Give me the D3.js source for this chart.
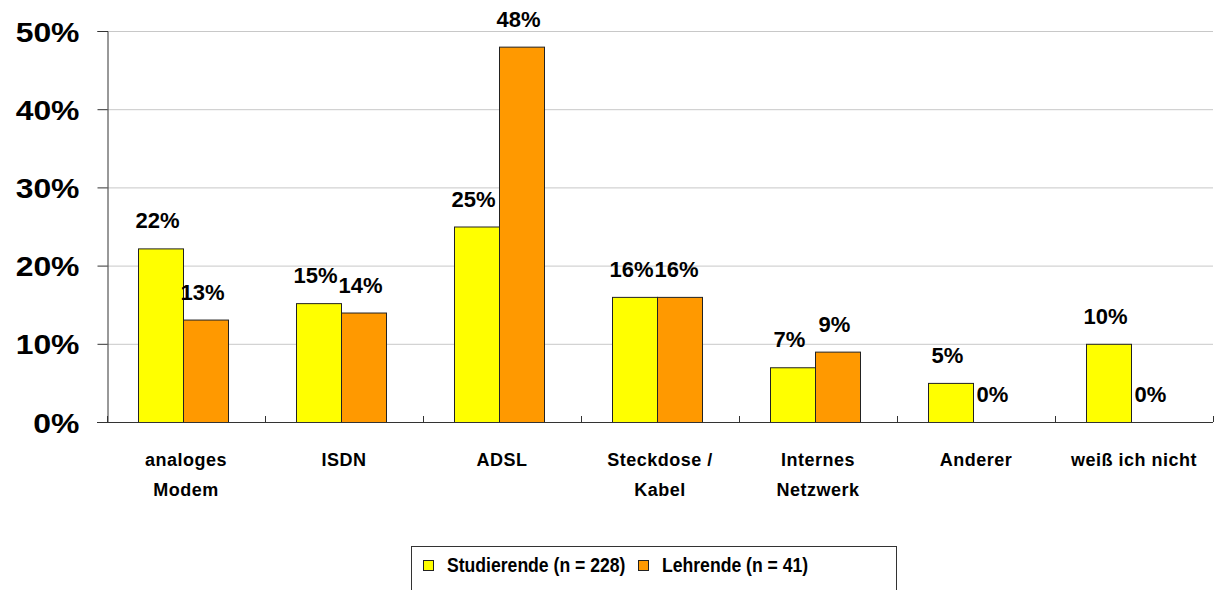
<!DOCTYPE html>
<html><head><meta charset="utf-8">
<script src="https://cdn.jsdelivr.net/npm/d3@7"></script>
<style>
html,body{margin:0;padding:0;background:#fff;}
svg text{font-family:"Liberation Sans",Arial,sans-serif;font-weight:bold;fill:#000;}
</style></head>
<body>
<svg id="chart" width="1222" height="590"></svg>
<script>
const categories = [["analoges","Modem"],["ISDN"],["ADSL"],["Steckdose /","Kabel"],["Internes","Netzwerk"],["Anderer"],["weiß ich nicht"]];
const seriesNames = ["Studierende (n = 228)","Lehrende (n = 41)"];
const studierende = [22.2, 15.2, 25, 16, 7, 5, 10];
const lehrende = [13.1, 14, 48, 16, 9, 0, 0];
const yTicks = [0,10,20,30,40,50];
const colors = ["#FFFF00","#FF9900"];

const svg = d3.select("#chart");
const x = d3.scaleBand().domain(d3.range(categories.length)).range([107,1213]).padding(0);
const inner = d3.scaleBand().domain([0,1]).range([31,121]);
const y = d3.scaleLinear().domain([0,50]).range([422,31]);

// gridlines
svg.append("g").selectAll("line").data(yTicks.filter(d=>d>0)).join("line")
  .attr("x1",107).attr("x2",1213).attr("y1",d=>y(d)+0.5).attr("y2",d=>y(d)+0.5)
  .attr("stroke","#c8c8c8").attr("stroke-width",1);

// y axis
const yAxis = svg.append("g").attr("transform","translate(107.5,0)")
  .call(d3.axisLeft(y).tickValues(yTicks).tickFormat(d=>d+"%").tickSize(10).tickPadding(18));
yAxis.select(".domain").attr("stroke","#333");
yAxis.selectAll(".tick line").attr("stroke","#333");
yAxis.selectAll(".tick text").style("font-size","28px").attr("dy","0.36em")
  .attr("transform","translate(-28,0) scale(1.14,1)").attr("x",0);

// bars
const data = [];
categories.forEach((c,i)=>{
  data.push({i, s:0, v:studierende[i]});
  data.push({i, s:1, v:lehrende[i]});
});
svg.append("g").selectAll("rect").data(data.filter(d=>d.v>0)).join("rect")
  .attr("x",d=>x(d.i)+inner(d.s)+0.5)
  .attr("y",d=>y(d.v)+0.5)
  .attr("width",inner.bandwidth())
  .attr("height",d=>y(0)-y(d.v))
  .attr("fill",d=>colors[d.s])
  .attr("stroke","#222").attr("stroke-width",1);

// value labels
svg.append("g").selectAll("text").data(data).join("text")
  .attr("x",d=>x(d.i)+inner(d.s)+inner.bandwidth()/2-3)
  .attr("y",d=>y(d.v)-20)
  .attr("text-anchor","middle")
  .style("font-size","22px")
  .text(d=>Math.round(d.v)+"%");

// x axis
const xAxis = svg.append("g").attr("transform","translate(0,422)");
xAxis.append("line").attr("x1",97).attr("x2",1213).attr("y1",0.5).attr("y2",0.5).attr("stroke","#333");
xAxis.selectAll("line.t").data(d3.range(categories.length+1)).join("line").attr("class","t")
  .attr("x1",d=>107+d*x.bandwidth()+0.5).attr("x2",d=>107+d*x.bandwidth()+0.5)
  .attr("y1",-6).attr("y2",0).attr("stroke","#333");

// category labels
const cl = svg.append("g").selectAll("text").data(categories).join("text")
  .attr("text-anchor","middle")
  .attr("x",(d,i)=>x(i)+x.bandwidth()/2)
  .attr("y",466)
  .style("font-size","18px").style("letter-spacing","0.5px");
cl.selectAll("tspan").data(d=>d).join("tspan")
  .attr("x",function(){return d3.select(this.parentNode).attr("x");})
  .attr("dy",(d,j)=>j===0?0:30)
  .text(d=>d);

// legend
const lg = svg.append("g");
lg.append("rect").attr("x",411.5).attr("y",546.5).attr("width",485).attr("height",60)
  .attr("fill","#fff").attr("stroke","#333");
const legendX = [423, 638];
seriesNames.forEach((n,k)=>{
  lg.append("rect").attr("x",legendX[k]+0.5).attr("y",560.5).attr("width",10).attr("height",10)
    .attr("fill",colors[k]).attr("stroke","#222");
  lg.append("text").attr("transform",`translate(${legendX[k]+24},572) scale(0.88,1)`)
    .style("font-size","20px").text(n);
});
</script>
</body></html>
